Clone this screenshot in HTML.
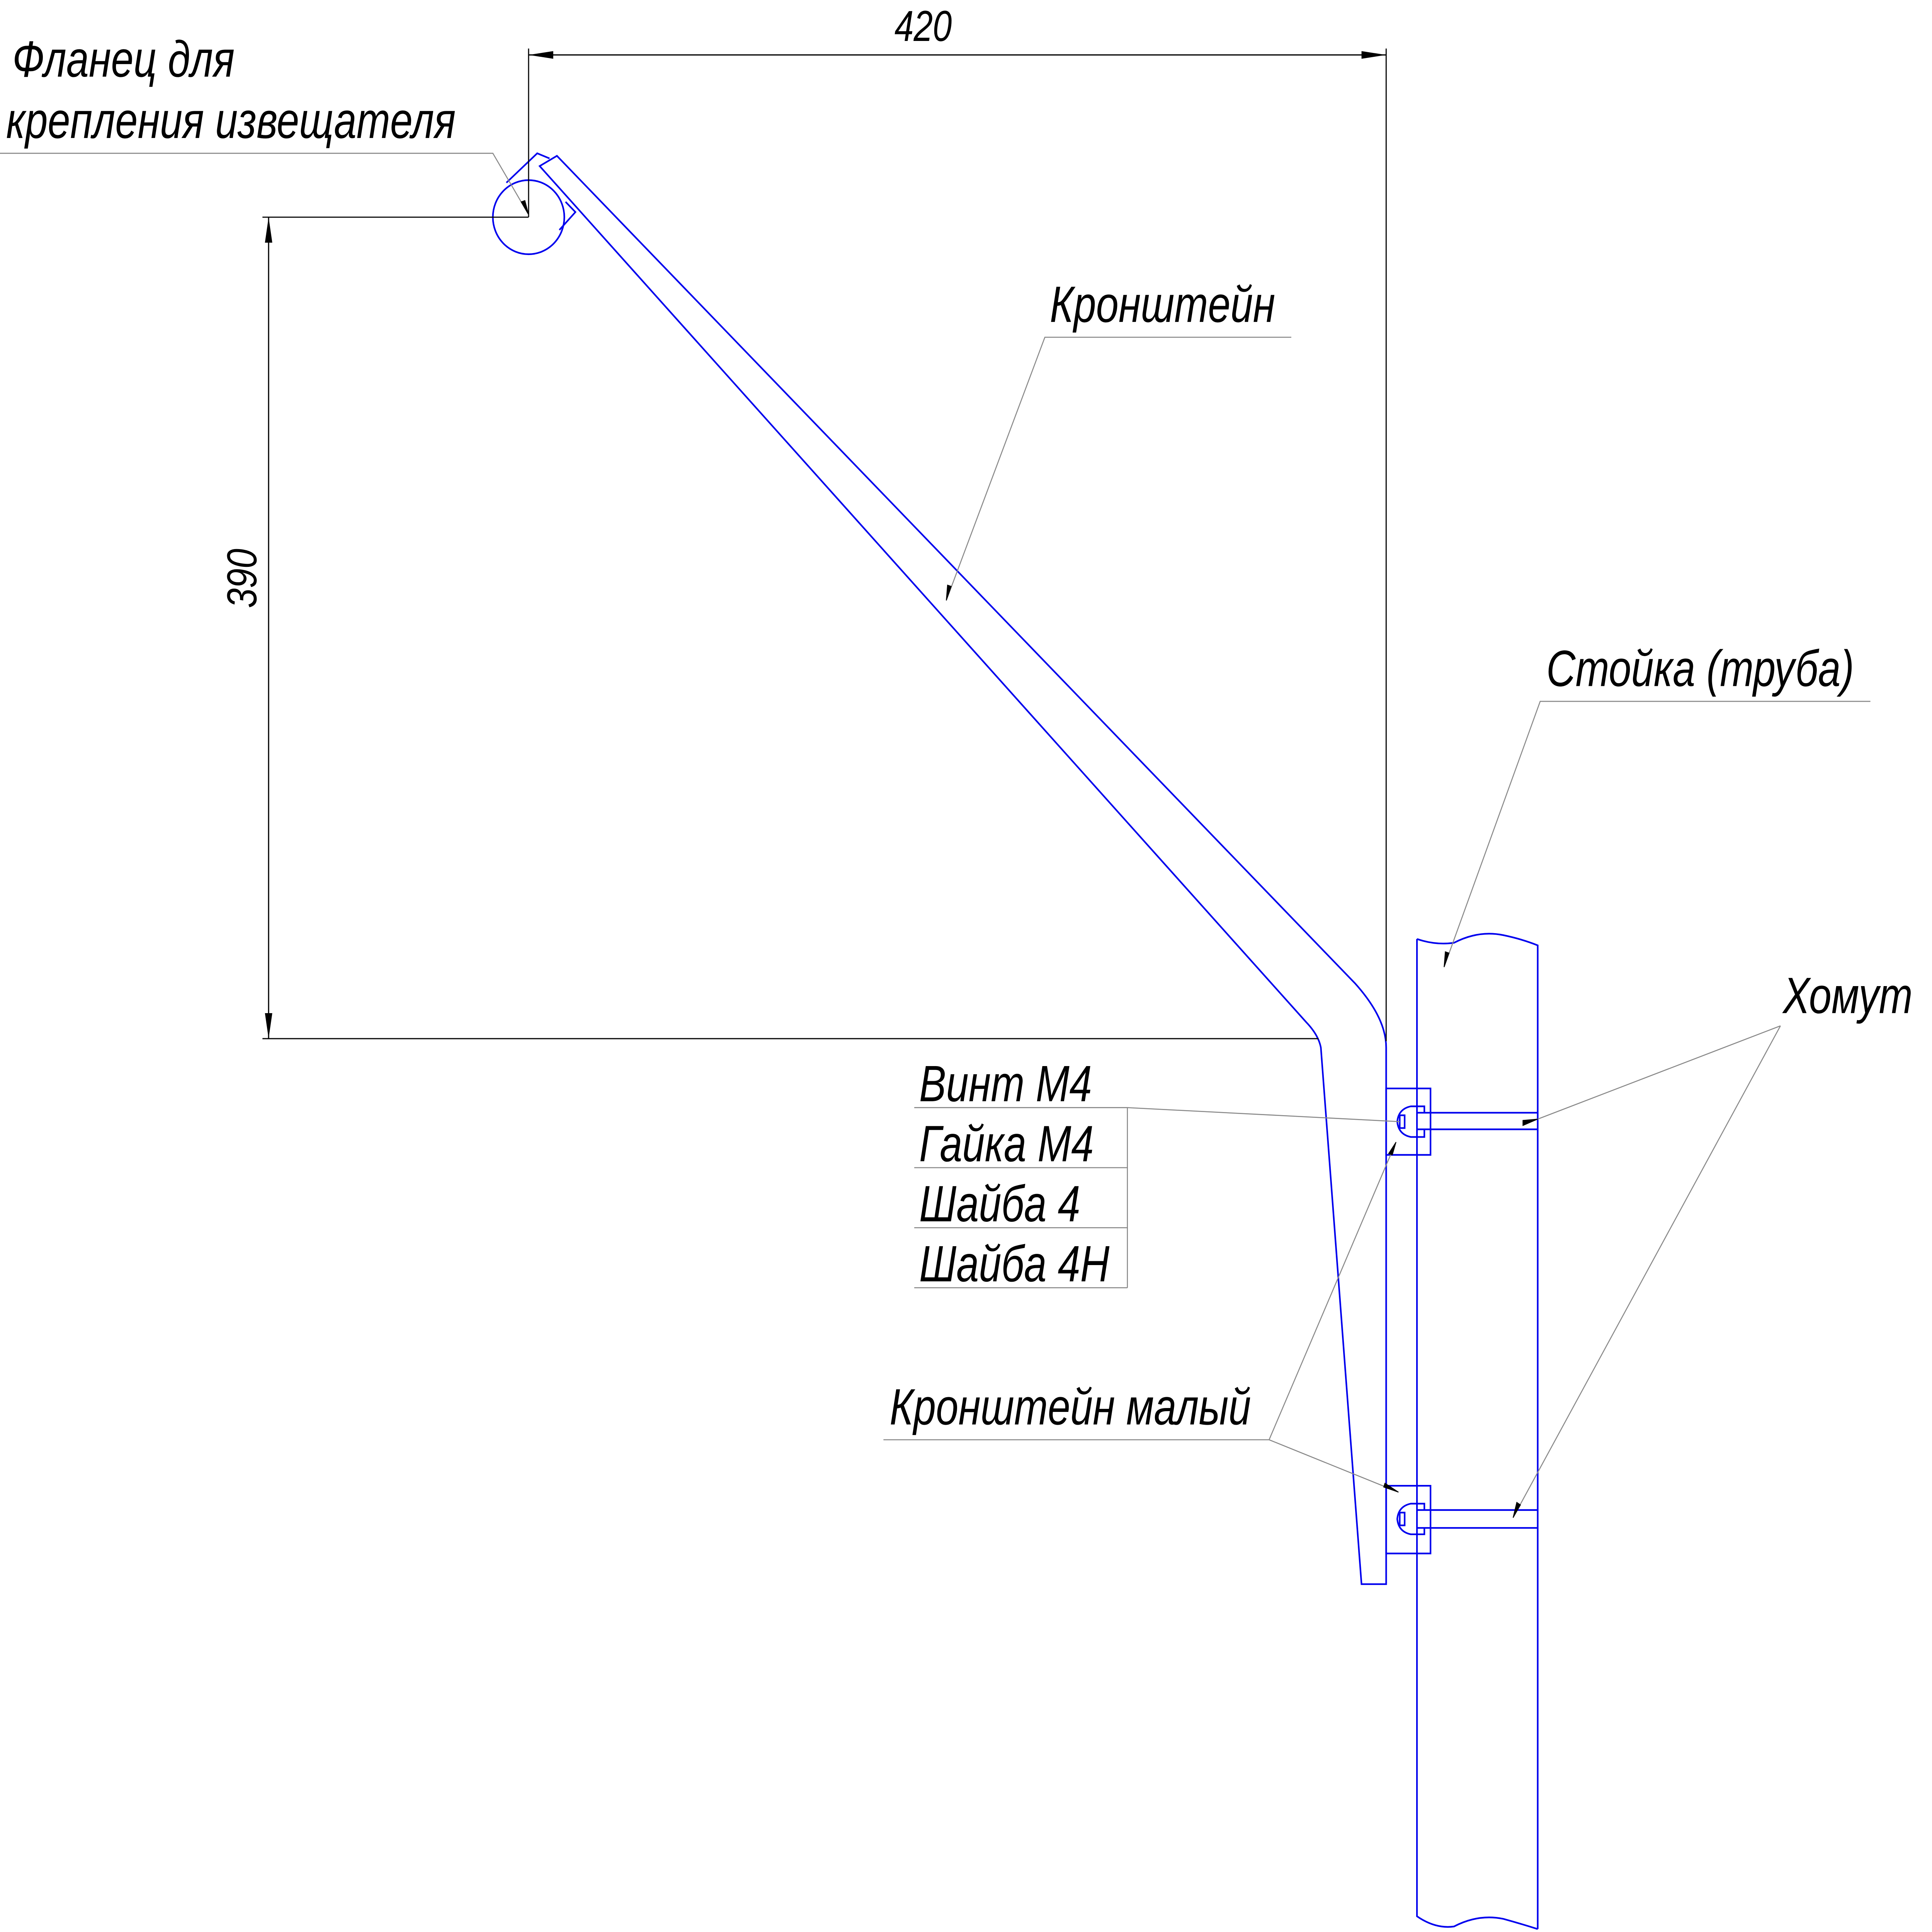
<!DOCTYPE html>
<html><head><meta charset="utf-8"><style>
html,body{margin:0;padding:0;background:#fff;overflow:hidden;width:100%;height:100%;}
svg{display:block;position:absolute;left:0;top:0;width:100vw;height:100vh;}
text{font-family:"Liberation Sans",sans-serif;font-style:italic;fill:#000;}
</style></head><body>
<svg viewBox="0 0 1568 1512.3" preserveAspectRatio="none" xmlns="http://www.w3.org/2000/svg">
<defs>
<marker id="a" viewBox="0 0 20 6" refX="20" refY="3" markerWidth="20" markerHeight="6" markerUnits="userSpaceOnUse" orient="auto"><path d="M0,0 L20,3 L0,6 z" fill="#000"/></marker>
</defs>
<g fill="none" stroke="#0000ee" stroke-width="1.3">
<circle cx="429" cy="170" r="29"/>
<path d="M411,143 L436,120 L446,124"/>
<path d="M459,158 L467,166 L454,180"/>
<path d="M438,130 L452,122 L1100,770 Q1125,797 1125,820 L1125,1240 L1105,1240 L1072,820 Q1070,810 1060,800 L438,130 Z"/>
<path d="M1150,735 Q1165,740 1180,738 Q1200,728 1220,732 Q1235,735 1248,740 L1248,1510"/>
<path d="M1150,735 L1150,1500 Q1165,1510 1180,1508 Q1200,1498 1220,1502 Q1235,1506 1248,1510"/>
<rect x="1125" y="852" width="36" height="52"/>
<rect x="1125" y="1163" width="36" height="53"/>
<path d="M1150,871 L1248,871 M1150,884 L1248,884"/>
<path d="M1150,1182 L1248,1182 M1150,1196 L1248,1196"/>
<path d="M1150,866 L1145,866 Q1135,868 1134,878 Q1135,888 1145,890 L1150,890"/>
<path d="M1150,866 L1156,866 L1156,871 M1150,890 L1156,890 L1156,884"/>
<path d="M1150,1177 L1145,1177 Q1135,1179 1134,1189 Q1135,1199 1145,1201 L1150,1201"/>
<path d="M1150,1177 L1156,1177 L1156,1182 M1150,1201 L1156,1201 L1156,1196"/>
<rect x="1136" y="873" width="4" height="10"/>
<rect x="1136" y="1184" width="4" height="10"/>
</g>
<g stroke="#000" stroke-width="0.9" fill="none">
<line x1="429" y1="38" x2="429" y2="170"/>
<line x1="1125" y1="38" x2="1125" y2="815"/>
<line x1="429" y1="43" x2="1125" y2="43" marker-end="url(#a)"/>
<line x1="1125" y1="43" x2="429" y2="43" marker-end="url(#a)"/>
<line x1="213" y1="170" x2="429" y2="170"/>
<line x1="213" y1="813" x2="1070" y2="813"/>
<line x1="218" y1="170" x2="218" y2="813" marker-end="url(#a)"/>
<line x1="218" y1="813" x2="218" y2="170" marker-end="url(#a)"/>
</g>
<g stroke="#888" stroke-width="0.8" fill="none">
<path d="M0,120 L400,120 L429,168"/>
<path d="M1048,264 L848,264 L768,470"/>
<path d="M1518,549 L1250,549 L1172,757"/>
<path d="M1445,803 L1248,876"/>
<path d="M1445,803 L1228,1188"/>
<path d="M742,867 L915,867 L1136,878"/>
<path d="M742,914 L915,914 M742,961 L915,961 M742,1008 L915,1008 M915,867 L915,1008"/>
<path d="M717,1127 L1030,1127 L1135,1168"/>
<path d="M1030,1127 L1133,894"/>
</g>
<g stroke="#000" stroke-width="0.6" fill="#000">
<path d="M429,168 L423,158 L426,157 Z"/>
<path d="M768,470 L769,458 L772,459 Z"/>
<path d="M1172,757 L1173,745 L1176,746 Z"/>
<path d="M1248,876 L1236,881 L1236,877 Z"/>
<path d="M1228,1188 L1231,1176 L1234,1178 Z"/>
<path d="M1133,894 L1127,903 L1130,904 Z"/>
<path d="M1135,1168 L1123,1164 L1124,1161 Z"/>
</g>
<g font-size="40">
<text transform="translate(10,60) scale(0.82,1)">Фланец для</text>
<text transform="translate(5,108) scale(0.82,1)">крепления извещателя</text>
<text transform="translate(852,252) scale(0.82,1)">Кронштейн</text>
<text transform="translate(1255,537) scale(0.82,1)">Стойка (труба)</text>
<text transform="translate(1447,793) scale(0.82,1)">Хомут</text>
<text transform="translate(746,862) scale(0.82,1)">Винт М4</text>
<text transform="translate(746,909) scale(0.82,1)">Гайка М4</text>
<text transform="translate(746,956) scale(0.82,1)">Шайба 4</text>
<text transform="translate(746,1003) scale(0.82,1)">Шайба 4Н</text>
<text transform="translate(722,1115) scale(0.82,1)">Кронштейн малый</text>
<text font-size="34" transform="translate(726,32) scale(0.82,1)">420</text>
<text font-size="34" transform="translate(208,476) rotate(-90) scale(0.82,1)">390</text>
</g>
</svg>
</body></html>
